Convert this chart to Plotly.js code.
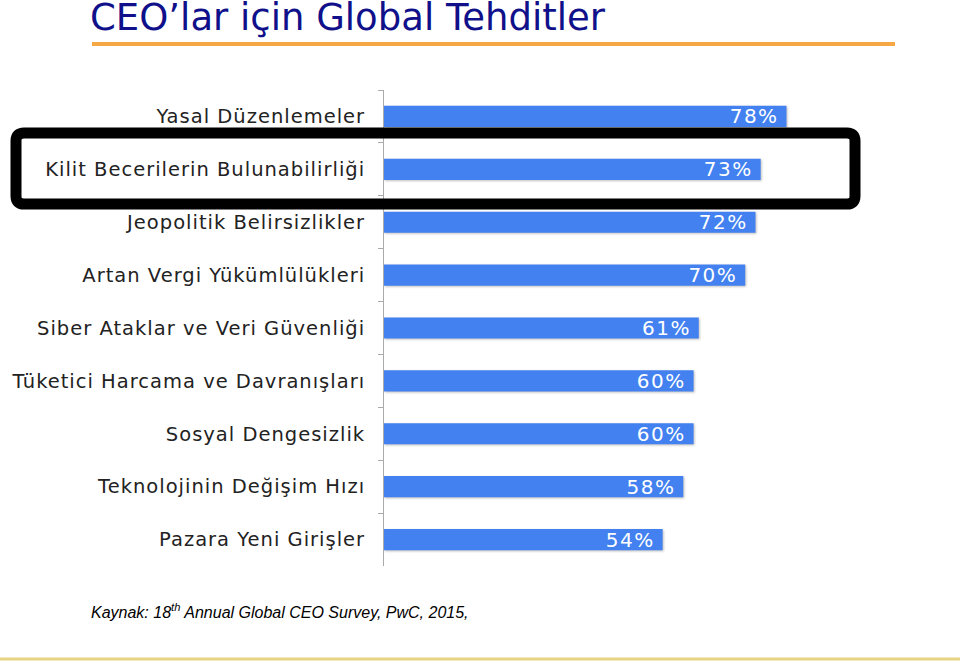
<!DOCTYPE html>
<html>
<head>
<meta charset="utf-8">
<script src="https://cdn.plot.ly/plotly-3.0.1.min.js"></script>
<style>
  body { margin: 0; background: #fff; }
  #chart { width: 960px; height: 661px; }
  #chart .ytick text { letter-spacing: 1px; }
  #chart .bartext { letter-spacing: 1.5px; }
  #chart .point path { filter: drop-shadow(1px 1px 1px rgba(0, 0, 0, 0.25)); }
</style>
</head>
<body>
<div id="chart"></div>
<script>
const categories = [
  "Yasal Düzenlemeler",
  "Kilit Becerilerin Bulunabilirliği",
  "Jeopolitik Belirsizlikler",
  "Artan Vergi Yükümlülükleri",
  "Siber Ataklar ve Veri Güvenliği",
  "Tüketici Harcama ve Davranışları",
  "Sosyal Dengesizlik",
  "Teknolojinin Değişim Hızı",
  "Pazara Yeni Girişler",
];
const values = [78, 73, 72, 70, 61, 60, 60, 58, 54];
const valueLabels = values.map((v) => v + "%\u00a0");

const W = 960, H = 661;
const margin = { l: 384, r: 60, t: 90, b: 95 };
const plotW = W - margin.l - margin.r;
const plotH = H - margin.t - margin.b;

// pixel -> paper coords for the decorations
const px = (x) => (x - margin.l) / plotW;
const py = (y) => (H - margin.b - y) / plotH;

function roundedRect(x0, y0, x1, y1, r) {
  const rx = r / plotW, ry = r / plotH;
  const L = px(x0), R = px(x1), T = py(y0), B = py(y1);
  return (
    `M ${L + rx},${T} L ${R - rx},${T} Q ${R},${T} ${R},${T - ry} ` +
    `L ${R},${B + ry} Q ${R},${B} ${R - rx},${B} ` +
    `L ${L + rx},${B} Q ${L},${B} ${L},${B + ry} ` +
    `L ${L},${T - ry} Q ${L},${T} ${L + rx},${T} Z`
  );
}

const data = [
  {
    type: "bar",
    orientation: "h",
    y: categories,
    x: values,
    text: valueLabels,
    textposition: "inside",
    insidetextanchor: "end",
    constraintext: "none",
    textfont: { family: "DejaVu Sans, Verdana, sans-serif", size: 20, color: "#ffffff" },
    marker: { color: "#4281ef" },
    width: 0.4,
    hoverinfo: "skip",
  },
];

const layout = {
  width: W,
  height: H,
  margin: margin,
  paper_bgcolor: "#ffffff",
  plot_bgcolor: "#ffffff",
  showlegend: false,
  xaxis: {
    range: [0, 100],
    visible: false,
    fixedrange: true,
  },
  yaxis: {
    autorange: "reversed",
    showline: true,
    linecolor: "#aaaaaa",
    linewidth: 1,
    ticks: "outside",
    tickson: "boundaries",
    ticklen: 5,
    tickcolor: "#aaaaaa",
    ticklabelstandoff: 14,
    showgrid: false,
    tickfont: { family: "DejaVu Sans, Verdana, sans-serif", size: 19.5, color: "#222222" },
    fixedrange: true,
  },
  shapes: [
    {
      type: "line",
      xref: "paper",
      yref: "paper",
      x0: px(92),
      x1: px(895),
      y0: py(44),
      y1: py(44),
      line: { color: "#f5a844", width: 4 },
    },
    {
      type: "line",
      xref: "paper",
      yref: "paper",
      x0: px(0),
      x1: px(960),
      y0: py(659),
      y1: py(659),
      line: { color: "#e6d384", width: 3 },
    },
    {
      type: "path",
      xref: "paper",
      yref: "paper",
      path: roundedRect(16, 133, 855, 204, 8),
      line: { color: "#000000", width: 11 },
    },
  ],
  annotations: [
    {
      xref: "paper",
      yref: "paper",
      x: px(89),
      y: py(-5),
      xanchor: "left",
      yanchor: "top",
      showarrow: false,
      borderpad: 0,
      text: "CEO’lar için Global Tehditler",
      font: { family: "DejaVu Sans, Liberation Sans, sans-serif", size: 37, color: "#10108a", lineposition: "none" },
    },
    {
      xref: "paper",
      yref: "paper",
      x: px(89),
      y: py(611),
      xanchor: "left",
      yanchor: "middle",
      showarrow: false,
      text: "<i>Kaynak: 18<sup>th</sup> Annual Global CEO Survey, PwC, 2015,</i>",
      font: { family: "Liberation Sans, Arial, sans-serif", size: 16, color: "#000000" },
    },
  ],
};

window.Plotly.newPlot("chart", data, layout, { displayModeBar: false, staticPlot: true });
</script>
</body>
</html>
